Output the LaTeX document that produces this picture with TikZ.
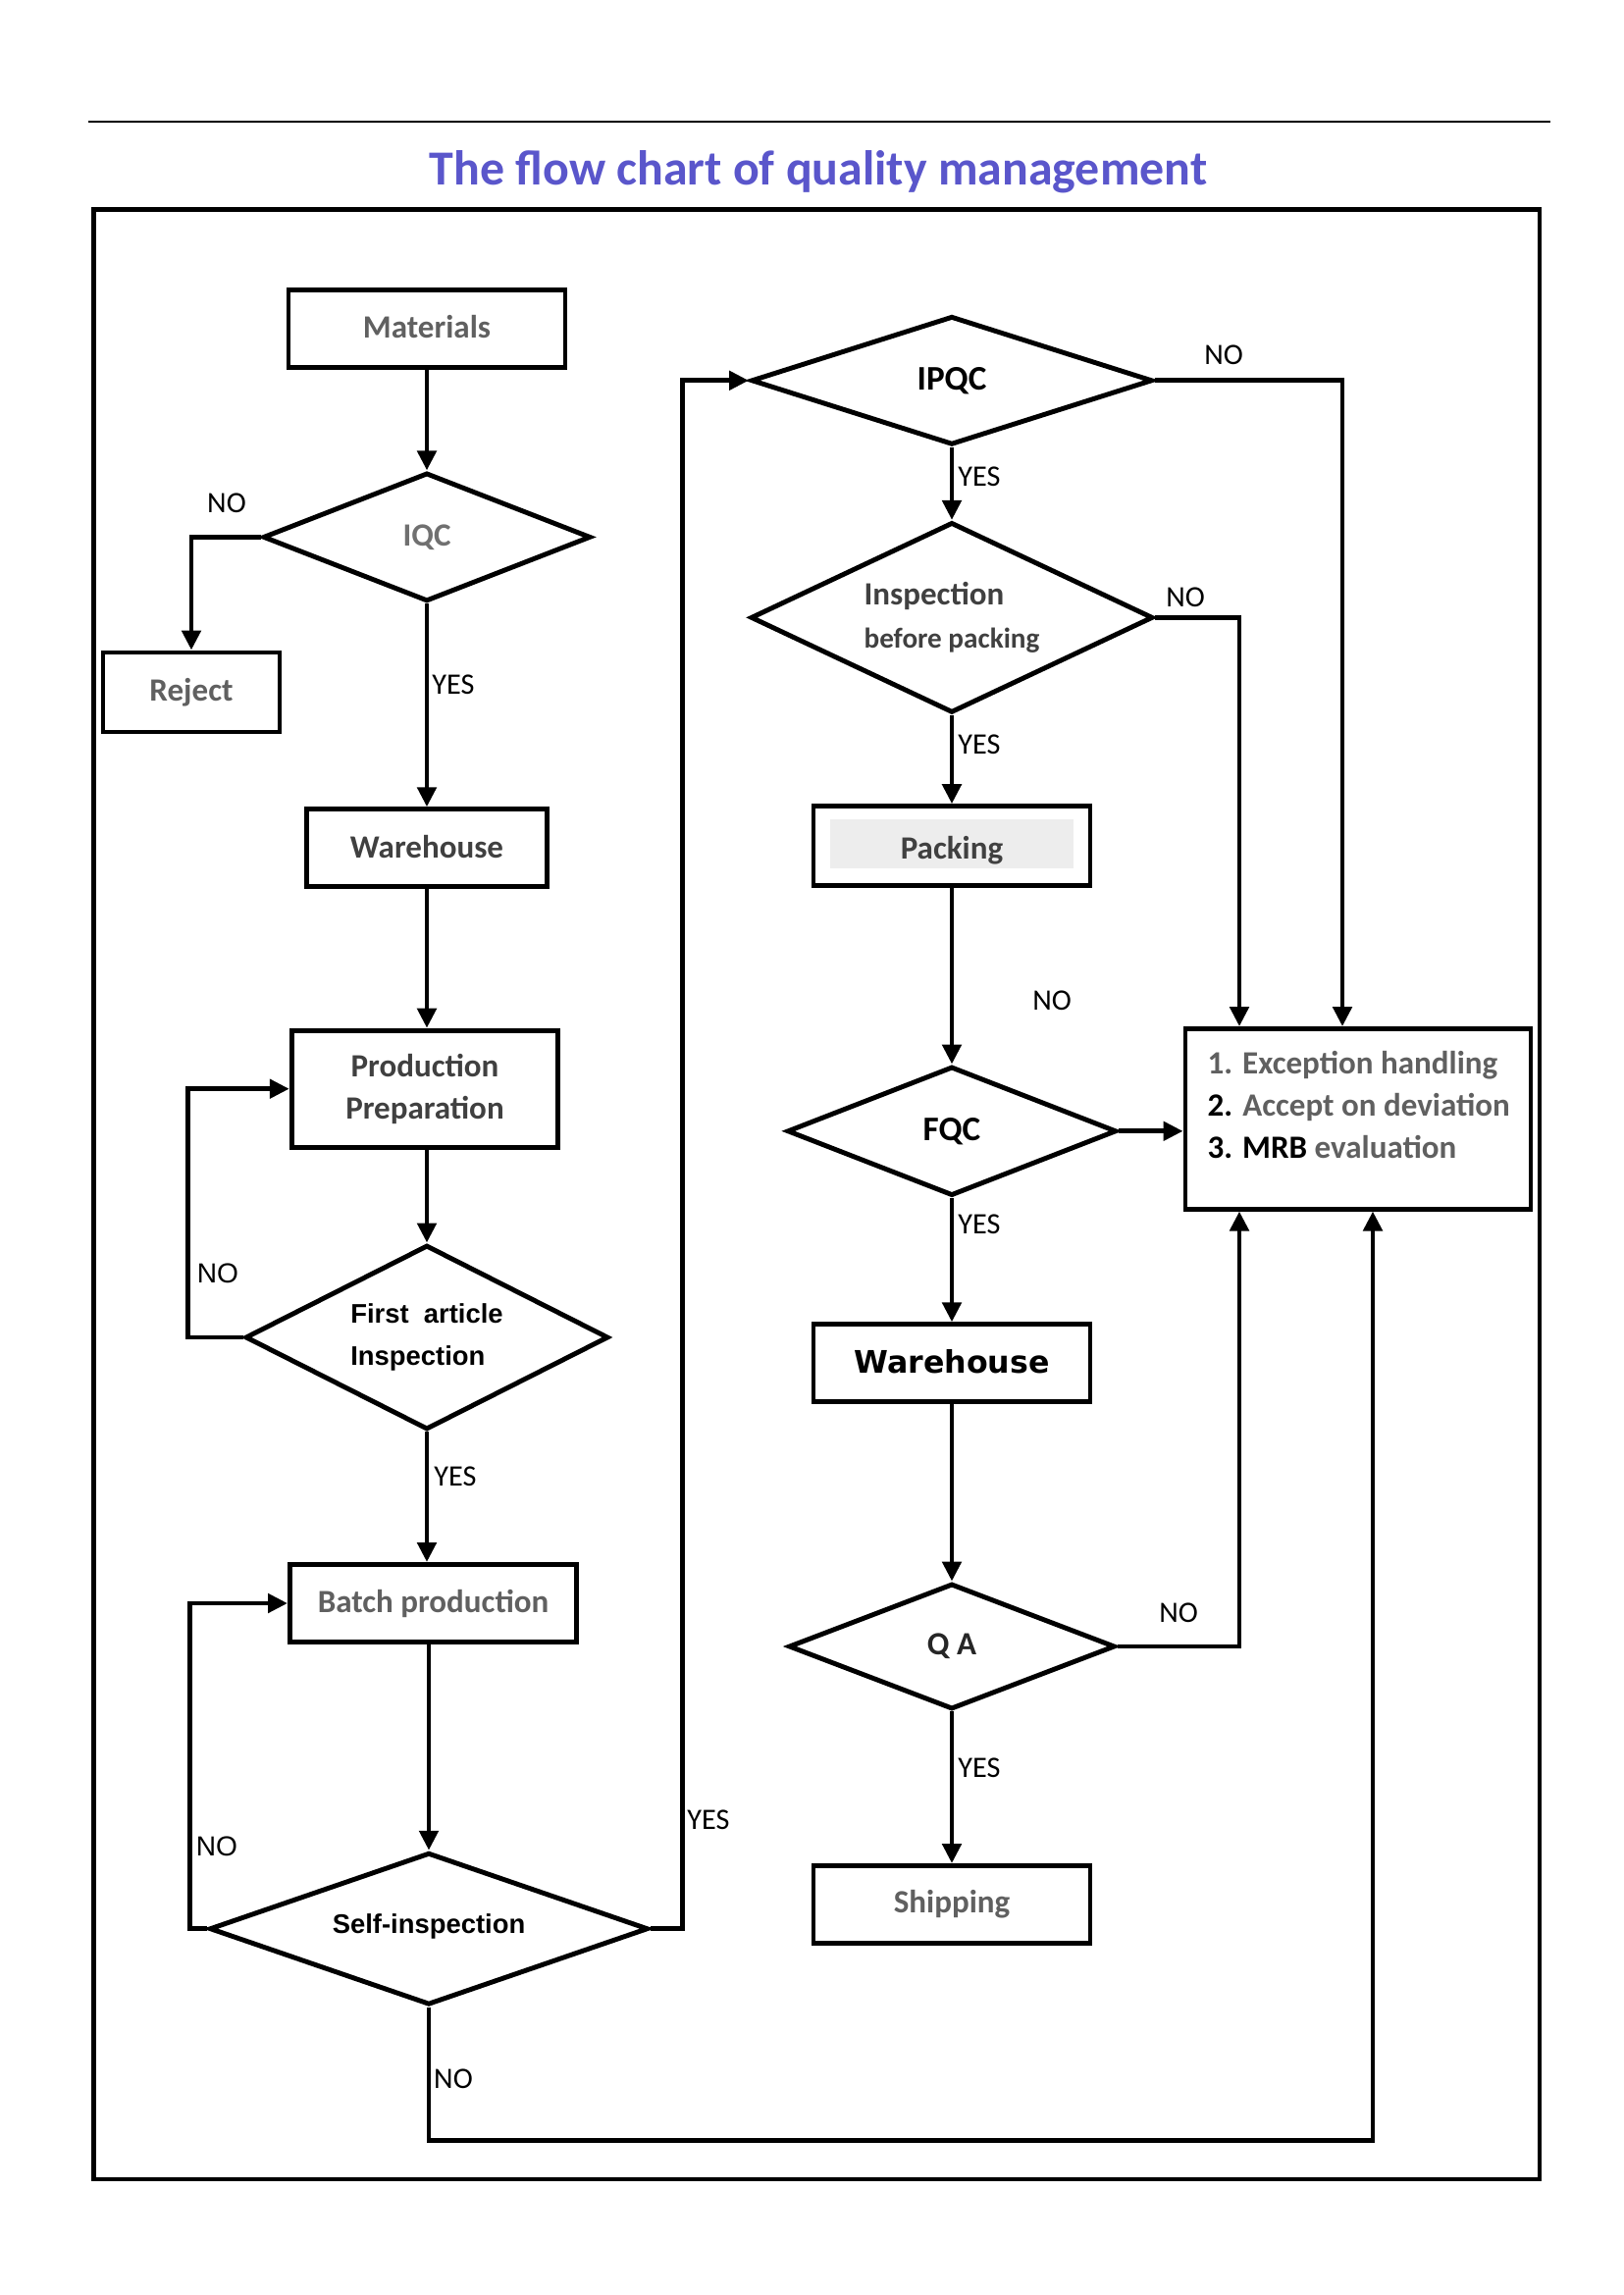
\documentclass[tikz,border=0pt]{standalone}
\usepackage{fontspec}
\setmainfont{Carlito}
\newfontfamily\arialfont{Liberation Sans}
\newfontfamily\verdfont{DejaVu Sans}
\usetikzlibrary{shapes.geometric,arrows.meta,positioning}
\definecolor{titleblue}{HTML}{5A56CB}
\definecolor{txtgray}{HTML}{606060}
\definecolor{txtdark}{HTML}{404040}

\begin{document}
\begin{tikzpicture}[
  box/.style={rectangle, draw, line width=1.4pt, inner sep=0pt, align=center, text=txtgray,
    font=\bfseries\fontsize{9.4}{12.3}\selectfont},
  dec/.style={diamond, draw, line width=1.4pt, inner sep=0pt, align=center,
    font=\bfseries\fontsize{9.4}{12.3}\selectfont},
  arr/.style={-{Triangle[length=2mm, width=1.9mm]}, line width=1.4pt},
  lbl/.style={font=\fontsize{8.6}{10}\selectfont, inner sep=0pt}
]
  \useasboundingbox (0,0) rectangle (16.54,-23.39);
  \draw[line width=0.7pt] (0.895,-1.238) -- (15.795,-1.238);
  \node[font=\bfseries\fontsize{14.2}{16}\selectfont, text=titleblue] (title) at (8.34,-1.75) {The flow chart of quality management};
  \draw[line width=1.3pt] (0.955,-2.133) rectangle (15.69,-22.208);

  \node[box, minimum width=2.82cm, minimum height=0.79cm] (mat) at (4.35,-3.35) {\raisebox{0.05cm}{Materials}};
  \node[dec, aspect=2.55, minimum width=3.34cm, minimum height=1.31cm, text=txtgray!90] (iqc) at (4.35,-5.474) {IQC};
  \node[box, minimum width=1.80cm, minimum height=0.81cm] (reject) at (1.95,-7.055) {Reject};
  \node[box, minimum width=2.45cm, minimum height=0.79cm, text=txtdark] (wh1) at (4.35,-8.643) {\raisebox{0.03cm}{Warehouse}};
  \node[box, minimum width=2.715cm, minimum height=1.19cm, text=txtdark] (prep) at (4.33,-11.097) {Production\\Preparation};
  \node[dec, aspect=1.97, minimum width=3.70cm, minimum height=1.88cm, align=left,
    font=\arialfont\bfseries\fontsize{7.8}{12.3}\selectfont] (fai) at (4.35,-13.63) {First~~article\\Inspection};
  \node[box, minimum width=2.92cm, minimum height=0.79cm] (batch) at (4.415,-16.34) {Batch production};
  \node[dec, aspect=2.88, minimum width=4.47cm, minimum height=1.55cm,
    font=\arialfont\bfseries\fontsize{7.8}{10}\selectfont] (self) at (4.37,-19.657) {\raisebox{0.1cm}{Self-inspection}};

  \node[dec, aspect=3.12, minimum width=4.09cm, minimum height=1.31cm, font=\bfseries\fontsize{10}{12}\selectfont] (ipqc) at (9.70,-3.878) {IPQC};
  \node[dec, aspect=2.11, minimum width=4.10cm, minimum height=1.94cm, align=left, text=txtdark] (ibp) at (9.70,-6.294)
    {Inspection\\{\fontsize{8.3}{10}\selectfont before packing}};
  \node[box, minimum width=2.82cm, minimum height=0.806cm] (pack) at (9.70,-8.62) {};
  \node[fill=black!7, minimum width=2.48cm, minimum height=0.5cm, inner sep=0pt] (packbg) at (9.70,-8.60) {};
  \node[text=txtdark, inner sep=0pt, font=\bfseries\fontsize{9.4}{12.3}\selectfont] (packtxt) at (9.70,-8.67) {Packing};
  \node[dec, aspect=2.55, minimum width=3.356cm, minimum height=1.316cm, font=\bfseries\fontsize{10}{12}\selectfont] (fqc) at (9.70,-11.528) {FQC};
  \node[box, minimum width=2.82cm, minimum height=0.79cm, text=black,
    font=\verdfont\bfseries\fontsize{9}{12}\selectfont] (wh2) at (9.70,-13.893) {\raisebox{0.04cm}{Warehouse}};
  \node[dec, aspect=2.6, minimum width=3.326cm, minimum height=1.28cm, text=black!85] (qa) at (9.70,-16.78) {Q A};
  \node[box, minimum width=2.82cm, minimum height=0.79cm] (ship) at (9.70,-19.41) {Shipping};

  \node[box, minimum width=3.52cm, minimum height=1.835cm] (exc) at (13.84,-11.403) {};
  \node[align=left, anchor=west, inner sep=0pt, text=txtgray,
    font=\bfseries\fontsize{9.4}{12.2}\selectfont] (exctxt) at (12.30,-11.26)
    {1. Exception handling\\{\color{black}2.} Accept on deviation\\{\color{black}3. MRB} evaluation};

  \draw[arr] (mat) -- (iqc);
  \draw[arr] (iqc.west) -| (reject.north);
  \draw[arr] (iqc) -- (wh1);
  \draw[arr] (wh1) -- (wh1.south |- prep.north);
  \draw[arr] (prep.south -| fai.north) -- (fai);
  \draw[arr] (fai.west) -- ++(-0.56,0) |- (prep.west);
  \draw[arr] (fai) -- (fai.south |- batch.north);
  \draw[arr] (self.north |- batch.south) -- (self);
  \draw[arr] (self.west) -- ++(-0.18,0) |- (batch.west);
  \draw[arr] (self.east) -- ++(0.325,0) |- (ipqc.west);
  \draw[arr] (self.south) -- ++(0,-1.36) -| ([xshift=1.5mm]exc.south);

  \draw[arr] (ipqc.east) -| ([xshift=-1.6mm]exc.north);
  \draw[arr] (ipqc) -- (ibp);
  \draw[arr] (ibp.east) -| ([xshift=-12.1mm]exc.north);
  \draw[arr] (ibp) -- (pack);
  \draw[arr] (pack) -- (fqc);
  \draw[arr] (fqc.east) -- (fqc.east -| exc.west);
  \draw[arr] (fqc) -- (wh2);
  \draw[arr] (wh2) -- (qa);
  \draw[arr] (qa.east) -| ([xshift=-12.1mm]exc.south);
  \draw[arr] (qa) -- (ship);

  \node[lbl] (noiqc) at (2.31,-5.13) {NO};
  \node[lbl] (yesiqc) at (4.62,-6.98) {YES};
  \node[lbl, font=\arialfont\fontsize{8}{10}\selectfont] (nofai) at (2.22,-12.98) {NO};
  \node[lbl] (yesfai) at (4.64,-15.05) {YES};
  \node[lbl, font=\arialfont\fontsize{8}{10}\selectfont] (noloop) at (2.21,-18.82) {NO};
  \node[lbl] (yesself) at (7.22,-18.55) {YES};
  \node[lbl] (noself) at (4.62,-21.19) {NO};
  \node[lbl] (noipqc) at (12.47,-3.62) {NO};
  \node[lbl] (yesipqc) at (9.98,-4.86) {YES};
  \node[lbl] (noibp) at (12.08,-6.085) {NO};
  \node[lbl] (yesibp) at (9.98,-7.59) {YES};
  \node[lbl] (nopack) at (10.72,-10.20) {NO};
  \node[lbl] (yesfqc) at (9.98,-12.48) {YES};
  \node[lbl] (noqa) at (12.01,-16.44) {NO};
  \node[lbl] (yesqa) at (9.98,-18.02) {YES};
\end{tikzpicture}
\end{document}
